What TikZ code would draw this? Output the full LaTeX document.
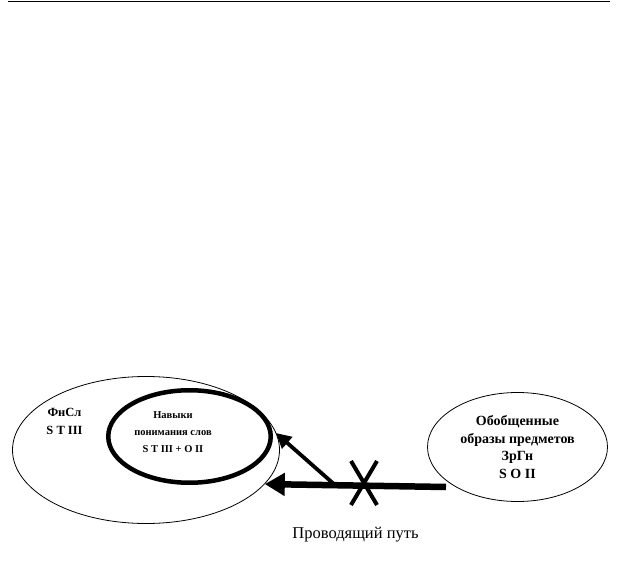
\documentclass[tikz,border=0pt]{standalone}
\usepackage{fontspec}
\setmainfont{Liberation Serif}
\usetikzlibrary{arrows.meta,positioning,shapes.geometric,shapes.misc}

\begin{document}
\begin{tikzpicture}[x=1pt,y=-1pt,>=Triangle,thick]
  \tikzset{
    zone/.style={draw,ellipse,line width=0.8pt,inner sep=0pt},
    skillzone/.style={draw,ellipse,line width=4.5pt,inner sep=0pt},
    boldtxt/.style={font=\fontsize{10.5}{17}\selectfont\bfseries,align=center,inner sep=0pt},
  }
  \useasboundingbox (0,0) rectangle (618,561);

  % Rule at the top of the page
  \coordinate (ruleL) at (8,1.5);
  \coordinate (ruleR) at (610,1.5);
  \draw[line width=1.5pt] (ruleL) -- (ruleR);

  % Left = phonemic hearing zone with the skill zone inside
  \node[zone,minimum width=267pt,minimum height=147pt] (fnsl) at (146,450) {};
  \node[boldtxt,font=\fontsize{12.5}{17.3}\selectfont\bfseries] (fnsltxt) at (64.5,421.5) {ФнСл\\S T III};
  \node[skillzone,minimum width=162.5pt,minimum height=92.5pt] (skills) at (189.5,436.5) {};
  \node[boldtxt] (skillstxt) at (173,432) {Навыки\\понимания слов\\S T III + O II};

  % Right = generalised images of objects
  \node[zone,boldtxt,font=\fontsize{14}{17.8}\selectfont\bfseries,draw,line width=0.8pt,
    minimum width=180pt,minimum height=109pt] (zrgn) at (517.5,447)
    {Обобщенные\\образы предметов\\ЗрГн\\S O II};

  % Conducting path, blocked
  \coordinate (pathstart) at (446,487);
  \coordinate (fork) at (335,485);
  \coordinate (skilltip) at (276,433);
  \draw[->,line width=3.8pt,>={Triangle[length=15pt,width=15pt]}] (fork) -- (skilltip);
  \draw[->,line width=6.5pt,>={Triangle[length=20pt,width=22pt]}] (pathstart) -- (fnsl.-16.6);
  \node[cross out,draw,line width=4pt,minimum width=22pt,minimum height=40pt,inner sep=0pt] (block) at (364,483) {};

  \node[font=\fontsize{16.5}{19}\selectfont,inner sep=0pt] (pathlbl) at (355.5,535) {Проводящий путь};

\end{tikzpicture}
\end{document}
